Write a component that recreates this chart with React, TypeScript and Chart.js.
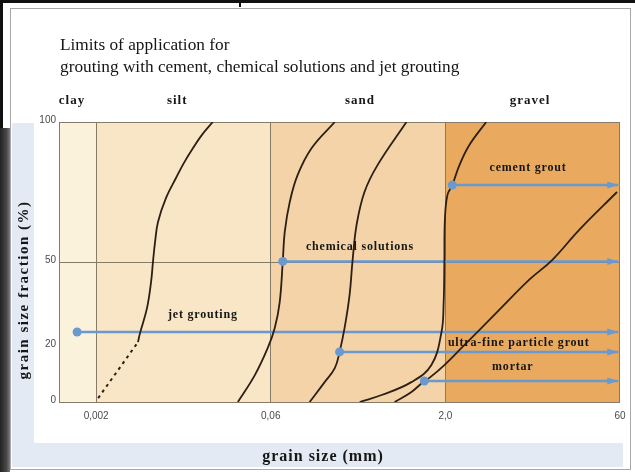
import React, { useEffect, useRef } from 'react';
import { Chart, registerables } from 'chart.js';

Chart.register(...registerables);

const W = 635;
const H = 472;

// ---- text ----
const titleLines = ['Limits of application for', 'grouting with cement, chemical solutions and jet grouting'];
const yAxisTitle = 'grain size fraction (%)';
const xAxisTitle = 'grain size (mm)';

// ---- axes ----
const xTicksMm = [0.002, 0.06, 2, 60];
const xTickLabels = ['0,002', '0,06', '2,0', '60'];
const yTicks = [0, 20, 50, 100];
const xMinMm = 0.00097;
const xMaxMm = 60;

// ---- soil classes (band limits in mm) ----
const soilClasses = ['clay', 'silt', 'sand', 'gravel'];
const soilBandLimits = [0.00097, 0.002, 0.06, 2, 60];
const soilLabelAtMm = [0.00125, 0.0097, 0.36, 10.4];
const soilColors = ['#fbf2db', '#f8e6c6', '#f3d3a7', '#e9aa5f'];

// ---- grading curves (grain size mm / passing %) ----
const siltDashedX = [0.00208, 0.00452];
const siltDashedY = [1.4, 21.4];
const siltCurveX = [0.00452, 0.0047, 0.00539, 0.00583, 0.00606, 0.0063, 0.00667, 0.0078, 0.00947, 0.01106, 0.0132, 0.0157, 0.0194];
const siltCurveY = [21.4, 24.6, 33.6, 42.9, 50.4, 57.1, 64.3, 72.9, 80, 85.4, 90.7, 95.4, 100];
const fineSandCurveX = [0.0316, 0.044, 0.0566, 0.065, 0.0718, 0.0764, 0.0794, 0.0878, 0.103, 0.1365, 0.217];
const fineSandCurveY = [0, 9.6, 19.3, 26.4, 35.7, 50.4, 60.7, 71.4, 81.1, 90.7, 100];
const midSandCurveX = [0.131, 0.177, 0.217, 0.239, 0.264, 0.292, 0.31, 0.336, 0.394, 0.512, 0.915];
const midSandCurveY = [0, 7.1, 12.1, 17.9, 26.4, 38.2, 50.4, 63.2, 75, 84.6, 100];
const coarseCurveX = [0.358, 0.555, 1.01, 1.51, 1.85, 1.93, 1.96, 1.98, 2.08, 2.29, 2.63, 3.19, 4.43];
const coarseCurveY = [0, 2.5, 7.1, 13.2, 25, 35, 50, 65, 73.9, 77.5, 84.6, 91.8, 100];
const gravelCurveX = [0.721, 1.012, 1.31, 1.45, 1.96, 2.78, 5.39, 10.2, 16.0, 27, 56.6];
const gravelCurveY = [0, 3.6, 7.5, 8.6, 13.2, 19.6, 31.8, 43.6, 50.7, 61.4, 75];

// ---- grouting methods ----
const groutNames = ['cement grout', 'chemical solutions', 'jet grouting', 'ultra-fine particle grout', 'mortar'];
const groutStartMm = [2.29, 0.0764, 0.00138, 0.239, 1.31];
const groutEndMm = [58, 58, 58, 58, 58];
const groutLevel = [77.5, 50.2, 25, 17.9, 7.5];
const groutLabelX = [10.0, 0.36, 0.016, 8.35, 7.43];
const groutLabelY = [83.5, 55.4, 31.1, 21.1, 12.5];

// Grain-size axis: each sieve interval (0.002-0.06-2-60) is drawn with equal width,
// logarithmic inside the interval.
function toPos(mm: number): number {
  let k = 0;
  if (mm >= xTicksMm[2]) k = 2;
  else if (mm >= xTicksMm[1]) k = 1;
  return k + Math.log(mm / xTicksMm[k]) / Math.log(xTicksMm[k + 1] / xTicksMm[k]);
}

const CURVE_COLOR = '#2c1f13';
const BLUE = '#6a99cf';
const GRID = '#867b69';
const SERIF = '"Liberation Serif", "Times New Roman", serif';
const SANS = '"Liberation Sans", Arial, sans-serif';

const decorPlugin = {
  id: 'decor',
  beforeDraw(chart: any) {
    const { ctx, chartArea: ca, scales } = chart;
    const x = scales.x;
    ctx.save();
    ctx.fillStyle = '#ffffff';
    ctx.fillRect(0, 0, W, H);
    // scan edges
    ctx.fillStyle = '#111';
    ctx.fillRect(0, 0, W, 3);
    ctx.fillRect(0, 0, 3, H);
    ctx.fillRect(239, 0, 2, 7);
    const g = ctx.createLinearGradient(0, 0, 11, 0);
    g.addColorStop(0, '#222');
    g.addColorStop(0.6, '#4a4a4a');
    g.addColorStop(1, '#8a8a8a');
    ctx.fillStyle = g;
    ctx.fillRect(0, 128, 10, H - 128);
    // panel
    ctx.strokeStyle = '#a8a8a8';
    ctx.lineWidth = 1;
    ctx.strokeRect(10.5, 8.5, 620, 461);
    ctx.fillStyle = '#e3eaf3';
    ctx.fillRect(12, 123, 22, 320);
    ctx.fillRect(12, 443, 611, 24);
    // soil bands
    for (let i = 0; i < soilClasses.length; i++) {
      const x0 = x.getPixelForValue(toPos(soilBandLimits[i]));
      const x1 = x.getPixelForValue(toPos(soilBandLimits[i + 1]));
      ctx.fillStyle = soilColors[i];
      ctx.fillRect(x0, ca.top, x1 - x0, ca.bottom - ca.top);
    }
    ctx.restore();
  },
  beforeDatasetsDraw(chart: any) {
    const { ctx, chartArea: ca } = chart;
    ctx.save();
    ctx.strokeStyle = GRID;
    ctx.lineWidth = 1;
    ctx.strokeRect(ca.left + 0.5, ca.top + 0.5, ca.right - ca.left - 1, ca.bottom - ca.top);
    ctx.restore();
  },
  afterDatasetsDraw(chart: any) {
    const { ctx } = chart;
    ctx.save();
    chart.data.datasets.forEach((ds: any, i: number) => {
      if (!ds.isGrout) return;
      const meta = chart.getDatasetMeta(i);
      const p0 = meta.data[0];
      const p1 = meta.data[1];
      ctx.fillStyle = BLUE;
      ctx.beginPath();
      ctx.arc(p0.x, p0.y, 4.5, 0, Math.PI * 2);
      ctx.fill();
      ctx.beginPath();
      ctx.moveTo(p1.x, p1.y);
      ctx.lineTo(p1.x - 11, p1.y - 3.5);
      ctx.lineTo(p1.x - 11, p1.y + 3.5);
      ctx.closePath();
      ctx.fill();
    });
    ctx.restore();
  },
  afterDraw(chart: any) {
    const { ctx, scales } = chart;
    const x = scales.x;
    const y = scales.y;
    ctx.save();
    ctx.fillStyle = '#161616';
    ctx.textBaseline = 'middle';
    // title
    ctx.font = `17.3px ${SERIF}`;
    ctx.textAlign = 'left';
    (ctx as any).letterSpacing = '0px';
    ctx.fillText(titleLines[0], 60, 45);
    ctx.fillText(titleLines[1], 60, 67);
    // soil class labels
    ctx.font = `bold 13px ${SERIF}`;
    (ctx as any).letterSpacing = '1px';
    ctx.textAlign = 'center';
    soilClasses.forEach((s, i) => {
      ctx.fillText(s, x.getPixelForValue(toPos(soilLabelAtMm[i])), 101);
    });
    // grout labels
    ctx.font = `bold 12px ${SERIF}`;
    (ctx as any).letterSpacing = '0.8px';
    groutNames.forEach((n, i) => {
      ctx.fillText(n, x.getPixelForValue(toPos(groutLabelX[i])), y.getPixelForValue(groutLabelY[i]));
    });
    // axis titles
    ctx.font = `bold 16px ${SERIF}`;
    (ctx as any).letterSpacing = '1px';
    ctx.fillText(xAxisTitle, 323, 457);
    ctx.save();
    ctx.translate(24, 290);
    ctx.rotate(-Math.PI / 2);
    ctx.font = `bold 15px ${SERIF}`;
    (ctx as any).letterSpacing = '1.5px';
    ctx.fillText(yAxisTitle, 0, 0);
    ctx.restore();
    ctx.restore();
  },
};

function curve(xs: number[], ys: number[]) {
  return xs.map((v, i) => ({ x: toPos(v), y: ys[i] }));
}

export default function App() {
  const ref = useRef<HTMLCanvasElement | null>(null);
  useEffect(() => {
    if (!ref.current) return;
    const solid = (xs: number[], ys: number[]) => ({
      data: curve(xs, ys),
      borderColor: CURVE_COLOR,
      borderWidth: 1.8,
      pointRadius: 0,
      tension: 0.4,
      fill: false,
    });
    const datasets: any[] = [
      solid(siltCurveX, siltCurveY),
      {
        data: curve(siltDashedX, siltDashedY),
        borderColor: CURVE_COLOR,
        borderWidth: 2,
        borderDash: [3, 4],
        pointRadius: 0,
        fill: false,
      },
      solid(fineSandCurveX, fineSandCurveY),
      solid(midSandCurveX, midSandCurveY),
      solid(coarseCurveX, coarseCurveY),
      solid(gravelCurveX, gravelCurveY),
      ...groutNames.map((n, i) => ({
        label: n,
        isGrout: true,
        data: [
          { x: toPos(groutStartMm[i]), y: groutLevel[i] },
          { x: toPos(groutEndMm[i]), y: groutLevel[i] },
        ],
        borderColor: BLUE,
        borderWidth: 2.5,
        pointRadius: 0,
        fill: false,
      })),
    ];
    const tickPos = xTicksMm.map(toPos);
    const chart = new Chart(ref.current, {
      type: 'line',
      data: { datasets },
      plugins: [decorPlugin],
      options: {
        animation: false,
        responsive: false,
        devicePixelRatio: 1,
        layout: { padding: { left: 0, right: 15, top: 122, bottom: 0 } },
        plugins: { legend: { display: false }, tooltip: { enabled: false } },
        scales: {
          x: {
            type: 'linear',
            min: toPos(xMinMm),
            max: toPos(xMaxMm),
            afterFit: (s: any) => { s.height = 70; },
            afterBuildTicks: (s: any) => { s.ticks = tickPos.map((v) => ({ value: v })); },
            border: { display: false },
            grid: {
              drawTicks: false,
              color: (c: any) => (c.tick && c.tick.value < 2.5 ? GRID : 'rgba(0,0,0,0)'),
              lineWidth: 1,
            },
            ticks: {
              autoSkip: false,
              maxRotation: 0,
              padding: 8,
              color: '#4a4a4a',
              font: { family: SANS, size: 10 },
              callback: (v: any) => {
                const i = tickPos.findIndex((p) => Math.abs(p - Number(v)) < 1e-6);
                return i >= 0 ? xTickLabels[i] : '';
              },
            },
          },
          y: {
            type: 'linear',
            min: 0,
            max: 100,
            afterFit: (s: any) => { s.width = 59; },
            afterBuildTicks: (s: any) => { s.ticks = yTicks.map((v) => ({ value: v })); },
            border: { display: false },
            grid: {
              drawTicks: false,
              color: (c: any) => (c.tick && c.tick.value === 50 ? GRID : 'rgba(0,0,0,0)'),
              lineWidth: 1,
            },
            ticks: {
              autoSkip: false,
              padding: 3,
              labelOffset: -2,
              color: '#4a4a4a',
              font: { family: SANS, size: 10 },
            },
          },
        },
      } as any,
    });
    return () => chart.destroy();
  }, []);
  return (
    <div style={{ position: 'absolute', left: 0, top: 0, width: W, height: H }}>
      <canvas ref={ref} width={W} height={H} style={{ width: W, height: H, display: 'block' }} />
    </div>
  );
}
